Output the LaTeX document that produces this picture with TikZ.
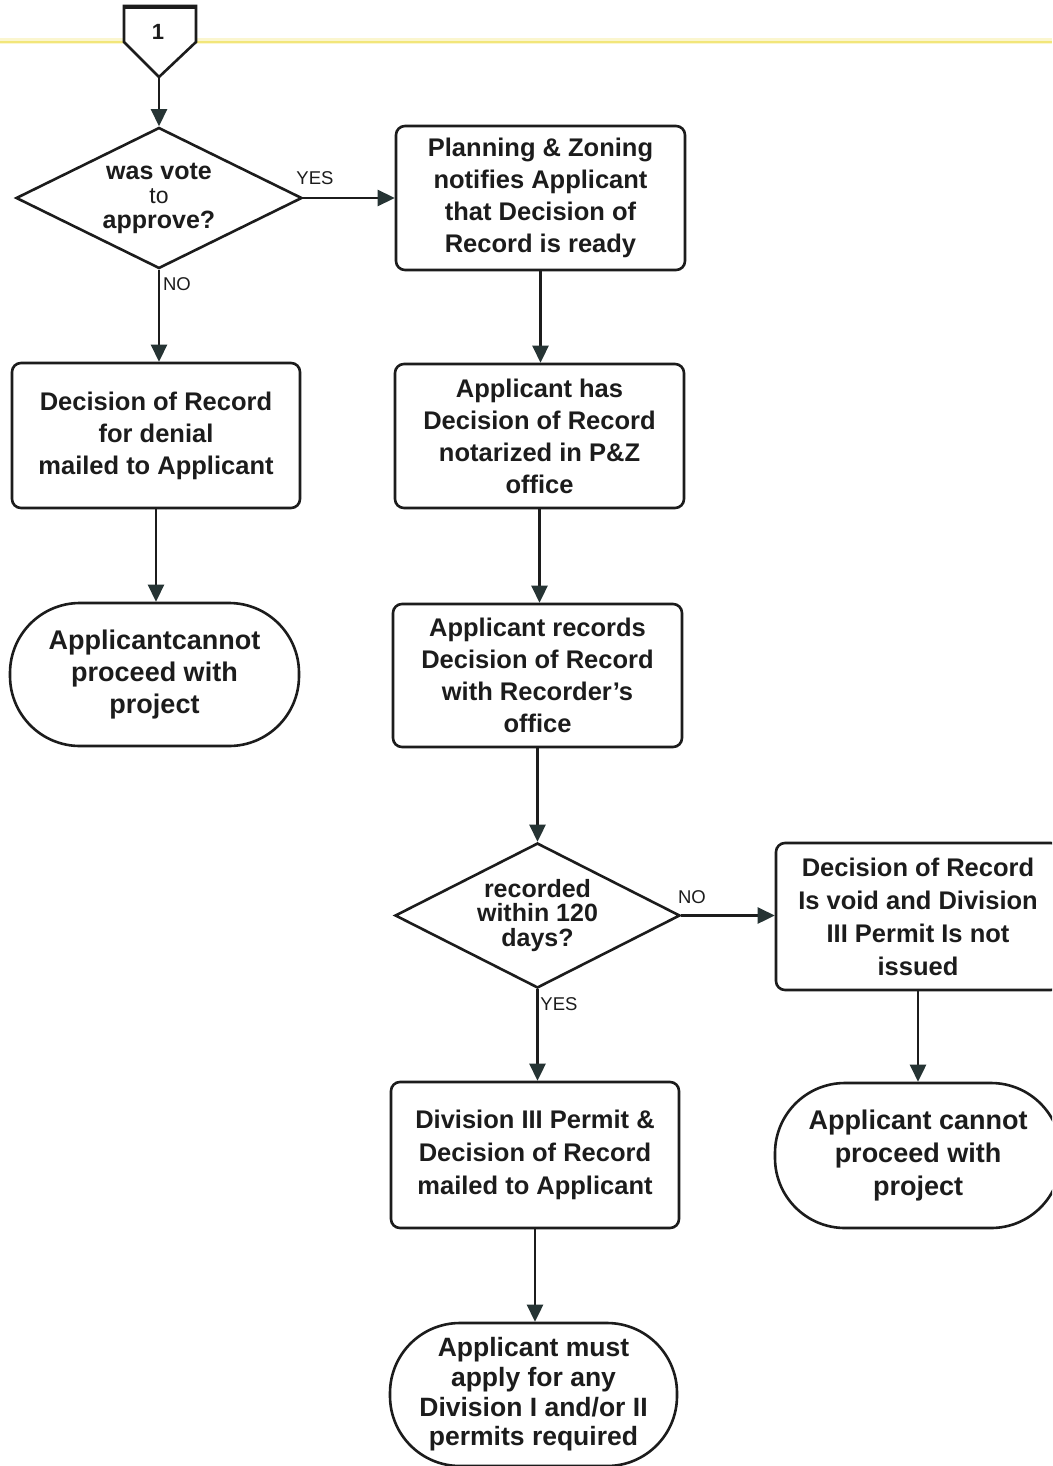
\documentclass[tikz,border=0pt]{standalone}
\usepackage{fontspec}
\setmainfont{Liberation Sans}
\usetikzlibrary{shapes.geometric,arrows.meta}
\definecolor{ink}{HTML}{1C1C1C}
\definecolor{tipc}{HTML}{263434}
\definecolor{hilite}{HTML}{F2E67A}
\definecolor{hilitefaint}{HTML}{FBF6CF}
\begin{document}
\begin{tikzpicture}[x=1pt,y=-1pt,
  line width=2.6pt,
  every node/.style={inner sep=0pt, text=ink},
  proc/.style={draw=ink, rounded corners=9pt, align=center,
    font=\bfseries\fontsize{25.5}{32}\selectfont},
  term/.style={draw=ink, rounded corners=70pt, align=center,
    font=\bfseries\fontsize{27}{33}\selectfont},
  decide/.style={draw=ink, diamond, aspect=2, align=center,
    font=\bfseries\fontsize{25}{24.5}\selectfont},
  flow/.style={draw=ink, -{Triangle[width=16pt,length=17pt,fill=tipc,color=tipc]}},
  lab/.style={font=\fontsize{18.5}{18.5}\selectfont}
]
\useasboundingbox (0,0) rectangle (1052,1466);
\fill[white] (0,0) rectangle (1052,1466);
\clip (0,0) rectangle (1052,1466);

% yellow rule
\draw[hilitefaint, line width=6pt] (0,41) -- (1052,41);
\draw[hilite, line width=2.8pt] (0,42) -- (1052,42);

% off-page connector
\draw[ink, fill=white, line join=miter] (124,6) -- (196,6) -- (196,42) -- (159,77) -- (124,42) -- cycle;
\draw[ink, line width=4pt] (124,7) -- (196,7);
\node[font=\bfseries\fontsize{22}{22}\selectfont] (c1) at (158,32) {1};
\coordinate (c1tip) at (159,77);

% decisions
\node[decide, minimum width=286pt, minimum height=141pt] (d1) at (159,198)
  {was vote\\{\mdseries\fontsize{23}{24.5}\selectfont to}\\approve?};
\node[decide, minimum width=285pt, minimum height=145pt] (d2) at (537.5,915.5)
  {recorded\\within 120\\days?};

% process boxes
\node[proc, minimum width=289pt, minimum height=144pt] (pz) at (540.5,198)
  {Planning \& Zoning\\notifies Applicant\\that Decision of\\Record is ready};
\node[proc, minimum width=289pt, minimum height=144pt] (has) at (539.5,436)
  {Applicant has\\Decision of Record\\notarized in P\&Z\\office};
\node[proc, minimum width=289pt, minimum height=143pt] (rec) at (537.5,675.5)
  {Applicant records\\Decision of Record\\with Recorder's\\office};
\node[proc, minimum width=288pt, minimum height=145pt] (den) at (156,435.5)
  {Decision of Record\\for denial\\mailed to Applicant};
\node[proc, minimum width=284pt, minimum height=147pt, font=\bfseries\fontsize{25.5}{33}\selectfont] (void) at (918,916.5)
  {Decision of Record\\Is void and Division\\III Permit Is not\\issued};
\node[proc, minimum width=288pt, minimum height=146pt, font=\bfseries\fontsize{25.5}{33}\selectfont] (div) at (535,1155)
  {Division III Permit \&\\Decision of Record\\mailed to Applicant};

% terminals
\node[term, minimum width=289pt, minimum height=143pt, font=\bfseries\fontsize{27}{32}\selectfont] (termL) at (154.5,674.5)
  {Applicantcannot\\proceed with\\project};
\node[term, minimum width=286pt, minimum height=145pt] (termR) at (918,1155.5)
  {Applicant cannot\\proceed with\\project};
\node[term, minimum width=287pt, minimum height=143pt, font=\bfseries\fontsize{26.5}{29.7}\selectfont] (termB) at (533.5,1394.5)
  {Applicant must\\apply for any\\Division I and/or II\\permits required};

% connectors
\draw[flow] (c1tip) -- (d1.north);
\draw[flow] (d1.east) -- (pz.west |- d1.east);
\draw[flow] (d1.south) -- (d1.south |- den.north);
\draw[flow] (den.south) -- (den.south |- termL.north);
\draw[flow] (pz.south) -- (pz.south |- has.north);
\draw[flow] (has.south) -- (has.south |- rec.north);
\draw[flow] (rec.south) -- (rec.south |- d2.north);
\draw[flow] (d2.east) -- (void.west |- d2.east);
\draw[flow] (d2.south) -- (d2.south |- div.north);
\draw[flow] (void.south) -- (void.south |- termR.north);
\draw[flow] (div.south) -- (div.south |- termB.north);

% branch labels
\node[lab] (yes1) at (315,178) {YES};
\node[lab] (no1) at (177,284) {NO};
\node[lab] (no2) at (692,897) {NO};
\node[lab] (yes2) at (559,1004) {YES};
\end{tikzpicture}
\end{document}
